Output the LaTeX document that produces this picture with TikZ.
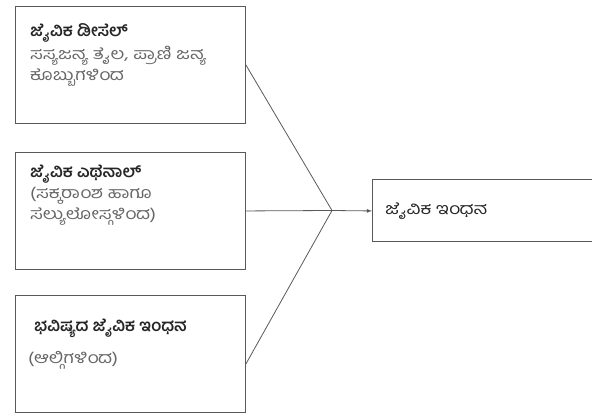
\documentclass[tikz,border=0pt]{standalone}
\usepackage{fontspec}
\usepackage{xcolor}
\usepackage{tikz}
\usetikzlibrary{positioning}
\newfontfamily\kannada[Script=Kannada]{Hind Mysuru}
\newfontfamily\kannadawide[Script=Kannada, FakeStretch=1.2]{Hind Mysuru}
\newcommand{\boxtitle}[1]{\textcolor{black!85}{\kannada\bfseries\fontsize{16.5}{21}\selectfont #1}}

\tikzset{
  box/.style={draw=black!65, line width=0.9pt, anchor=north west,
    minimum width=230pt, minimum height=117pt, inner sep=0pt},
  txt/.style={anchor=north west, align=left, inner sep=0pt, text=black!60,
    font=\kannadawide\fontsize{16}{21}\selectfont},
  link/.style={draw=black!65, line width=0.8pt}
}

\begin{document}
\begin{tikzpicture}[x=1pt, y=-1pt]
        \useasboundingbox (0,0) rectangle (592,414);

        % Sorgenti
        \node[box] (diesel) at (15,6) {};
        \node[txt] (dieseltxt) at ([xshift=15pt,yshift=-17pt]diesel.north west)
          {\boxtitle{ಜೈವಿಕ ಡೀಸೆಲ್}\\[2pt]ಸಸ್ಯಜನ್ಯ ತೈಲ, ಪ್ರಾಣಿ ಜನ್ಯ\\ಕೊಬ್ಬುಗಳಿಂದ};

        \node[box] (ethanol) at (15,152) {};
        \node[txt] (ethanoltxt) at ([xshift=15pt,yshift=-13pt]ethanol.north west)
          {\boxtitle{ಜೈವಿಕ ಎಥೆನಾಲ್}\\(ಸಕ್ಕರಾಂಶ ಹಾಗೂ\\ಸೆಲ್ಯುಲೋಸ್ಗಳಿಂದ)};

        \node[box] (future) at (15,295) {};
        \node[txt] (futuretxt) at ([xshift=13pt,yshift=-24pt]future.north west)
          {\hspace*{6pt}\boxtitle{ಭವಿಷ್ಯದ ಜೈವಿಕ ಇಂಧನ}\\[11pt](ಆಲ್ಗಿಗಳಿಂದ)};

        % Prodotto
        \node[box, minimum width=240pt, minimum height=62pt] (fuel) at (372,179.5) {};
        \node[txt, anchor=west, text=black!85] (fueltxt) at ([xshift=13pt]fuel.west)
          {ಜೈವಿಕ ಇಂಧನ};

        % Collegamenti
        \coordinate (join) at (332,210.5);
        \draw[link] (diesel.east) -- (join);
        \draw[link] (ethanol.east) -- (join);
        \draw[link] ([yshift=-10pt]future.east) -- (join);
        \draw[link,-latex] (join) -- (fuel.west);
      \end{tikzpicture}
\end{document}
